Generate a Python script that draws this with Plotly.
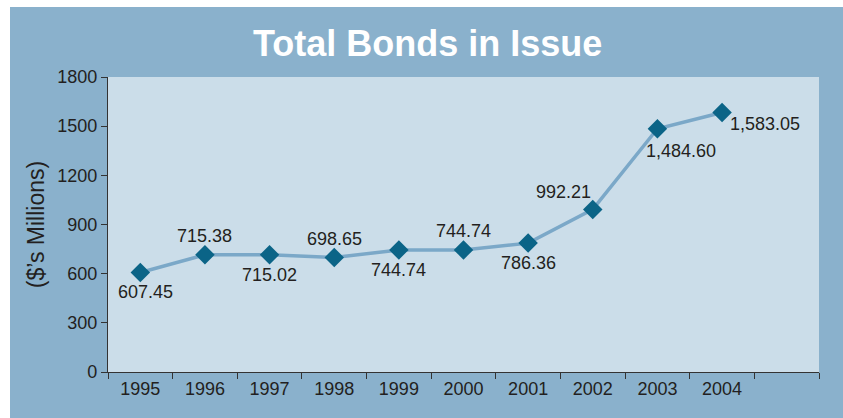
import plotly.graph_objects as go

years = ["1995", "1996", "1997", "1998", "1999", "2000", "2001", "2002", "2003", "2004"]
values = [607.45, 715.38, 715.02, 698.65, 744.74, 744.74, 786.36, 992.21, 1484.60, 1583.05]
labels = ["607.45", "715.38", "715.02", "698.65", "744.74", "744.74", "786.36", "992.21", "1,484.60", "1,583.05"]
label_side = ["below", "above", "below", "above", "below", "above", "below", "aboveleft", "belowright", "right"]
y_ticks = [0, 300, 600, 900, 1200, 1500, 1800]
n_slots = len(years) + 1  # one empty category slot at the end

OUTER = "#8ab1cc"
PLOT_BG = "#cbdde9"
LINE = "#7ba8c8"
MARK = "#0b6487"
TXT = "#231f20"
FONT = "Liberation Sans, Arial, sans-serif"

xs = list(range(len(years)))

fig = go.Figure()
fig.add_trace(go.Scatter(
    x=xs, y=values, mode="lines+markers",
    line=dict(color=LINE, width=3.5),
    marker=dict(symbol="diamond", size=15, color=MARK),
    hoverinfo="skip", showlegend=False,
))

W, H = 843, 418
ml, mr, mt, mb = 108, 24, 77, 46
pw, ph = W - ml - mr, H - mt - mb

anns = []
for i, (x, v, t, s) in enumerate(zip(xs, values, labels, label_side)):
    a = dict(x=x, y=v, xref="x", yref="y", text=t, showarrow=False,
             font=dict(family=FONT, size=18, color=TXT))
    if s == "below":
        a.update(yshift=-20, xshift=5 if i == 0 else 0)
    elif s == "above":
        a.update(yshift=19)
    elif s == "aboveleft":
        a.update(yshift=17, xshift=-29)
    elif s == "belowright":
        a.update(yshift=-22, xshift=24)
    elif s == "right":
        a.update(yshift=-11, xshift=6, xanchor="left")
    anns.append(a)

anns.append(dict(text="<b>Total Bonds in Issue</b>",
                 x=(427 - ml) / pw, y=(H - 43 - mb) / ph,
                 xref="paper", yref="paper", xanchor="center", yanchor="middle",
                 showarrow=False,
                 font=dict(family=FONT, size=36, color="white")))

fig.update_layout(
    width=W, height=H,
    margin=dict(l=ml, r=mr, t=mt, b=mb),
    paper_bgcolor=OUTER,
    plot_bgcolor=PLOT_BG,
    annotations=anns,
    shapes=[
        dict(type="rect", xref="paper", yref="paper", layer="below",
             x0=-ml / pw, x1=(10 - ml) / pw, y0=-mb / ph, y1=(H - mb) / ph,
             fillcolor="white", line=dict(width=0)),
        dict(type="rect", xref="paper", yref="paper", layer="below",
             x0=-ml / pw, x1=(W - ml) / pw, y0=(H - 7 - mb) / ph, y1=(H - mb) / ph,
             fillcolor="white", line=dict(width=0)),
    ],
    xaxis=dict(range=[-0.5, n_slots - 0.5], tickvals=xs, ticktext=years,
               ticks="", showline=True, linecolor="#333333", linewidth=1.2,
               minor=dict(tick0=-0.5, dtick=1, ticks="outside", ticklen=6, tickcolor="#333333",
                          showgrid=False),
               showgrid=False, zeroline=False,
               tickfont=dict(family=FONT, size=18, color=TXT),
               fixedrange=True),
    yaxis=dict(range=[0, 1800], tickvals=y_ticks, ticks="outside", ticklen=6,
               tickcolor="#333333", showline=True, linecolor="#333333", linewidth=1.2,
               showgrid=False, zeroline=False,
               tickfont=dict(family=FONT, size=18, color=TXT),
               title=dict(text="($\u2019s Millions)", standoff=6,
                          font=dict(family=FONT, size=23, color=TXT)),
               fixedrange=True),
)

fig.write_html("out.html")
